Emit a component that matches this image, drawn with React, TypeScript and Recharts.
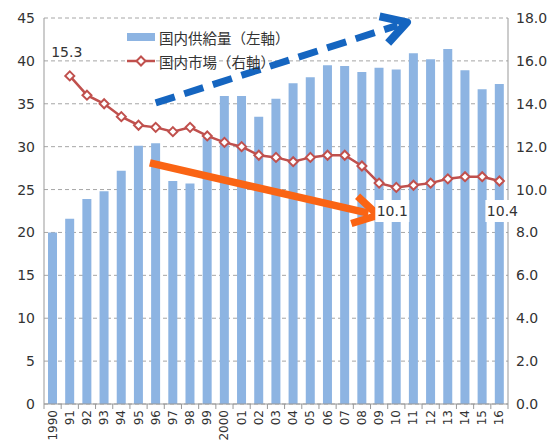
import {
  Bar,
  CartesianGrid,
  ComposedChart,
  LabelList,
  Legend,
  Line,
  ReferenceLine,
  XAxis,
  YAxis,
} from "recharts";

const years = [
  "1990", "91", "92", "93", "94", "95", "96", "97", "98", "99",
  "2000", "01", "02", "03", "04", "05", "06", "07", "08", "09",
  "10", "11", "12", "13", "14", "15", "16",
];

// 国内供給量（左軸）
const supply = [
  20.0, 21.6, 23.9, 24.8, 27.2, 30.1, 30.4, 26.0, 25.7, 31.0,
  35.9, 35.9, 33.5, 35.6, 37.4, 38.1, 39.5, 39.4, 38.7, 39.2,
  39.0, 40.9, 40.2, 41.4, 38.9, 36.7, 37.3,
];

// 国内市場（右軸）
const market = [
  null, 15.3, 14.4, 14.0, 13.4, 13.0, 12.9, 12.7, 12.9, 12.5,
  12.2, 12.0, 11.6, 11.5, 11.3, 11.5, 11.6, 11.6, 11.1, 10.3,
  10.1, 10.2, 10.3, 10.5, 10.6, 10.6, 10.4,
];

const leftTicks = [0, 5, 10, 15, 20, 25, 30, 35, 40, 45];
const rightTicks = [0, 2, 4, 6, 8, 10, 12, 14, 16, 18];
const labelledYears = ["91", "10", "16"];

const data = years.map((year, i) => ({
  year,
  supply: supply[i],
  market: market[i],
}));

const BLUE = "#8db4e2";
const RED = "#c0504d";
const NUM_FONT = "'DejaVu Sans', Verdana, sans-serif";
const JP_FONT = "'Noto Sans CJK JP', sans-serif";

function YearTick(props: any) {
  const { x, y, payload, index, visibleTicksCount } = props;
  const half = payload?.offset ?? 8.6;
  const last = index === (visibleTicksCount ?? years.length) - 1;
  return (
    <g>
      <line x1={x - half} y1={y - 6} x2={x - half} y2={y - 1} stroke="#999" />
      {last && (
        <line x1={x + half} y1={y - 6} x2={x + half} y2={y - 1} stroke="#999" />
      )}
      <text
        transform={`translate(${x},${y}) rotate(-90)`}
        textAnchor="end"
        dominantBaseline="central"
        fontSize={12}
        fontFamily={NUM_FONT}
        fill="#333"
      >
        {payload.value}
      </text>
    </g>
  );
}

function Diamond(props: any) {
  const { cx, cy, index } = props;
  if (cx == null || cy == null) return <g key={`d-${index}`} />;
  const r = 4.5;
  return (
    <polygon
      key={`d-${index}`}
      points={`${cx},${cy - r} ${cx + r},${cy} ${cx},${cy + r} ${cx - r},${cy}`}
      fill="#fff"
      stroke={RED}
      strokeWidth={2}
    />
  );
}

function MarketLabel(props: any) {
  const { x, y, value, index } = props;
  const year = years[index as number];
  if (!labelledYears.includes(year) || x == null || y == null) return null;
  const text = Number(value).toFixed(1);
  if (index === 1) {
    return (
      <text
        x={x - 3}
        y={y - 24}
        textAnchor="middle"
        dominantBaseline="central"
        fontSize={14}
        fontFamily={NUM_FONT}
        fill="#333"
      >
        {text}
      </text>
    );
  }
  const cy = 211;
  const cx = index === years.length - 1 ? x + 3 : x - 4;
  return (
    <g>
      <rect x={cx - 17} y={cy - 11} width={34} height={22} fill="#fff" />
      <text
        x={cx}
        y={cy}
        textAnchor="middle"
        dominantBaseline="central"
        fontSize={14}
        fontFamily={NUM_FONT}
        fill="#333"
      >
        {text}
      </text>
    </g>
  );
}

// shaft ends sit between category centres: shift them by a fraction of a band
function makeArrow(steps: number, shift1: number, shift2: number, headWidth: number) {
  return function Arrow(props: any) {
    const { stroke, strokeWidth, strokeDasharray } = props;
    const band = (props.x2 - props.x1) / steps;
    const x1 = props.x1 + shift1 * band;
    const x2 = props.x2 + shift2 * band;
    const { y1, y2 } = props;
    const ang = Math.atan2(y2 - y1, x2 - x1);
    const len = 28;
    const spread = (30 * Math.PI) / 180;
    const a1x = x2 - len * Math.cos(ang - spread);
    const a1y = y2 - len * Math.sin(ang - spread);
    const a2x = x2 - len * Math.cos(ang + spread);
    const a2y = y2 - len * Math.sin(ang + spread);
    const ex = x2 - 10 * Math.cos(ang);
    const ey = y2 - 10 * Math.sin(ang);
    return (
      <g>
        <line
          x1={x1}
          y1={y1}
          x2={ex}
          y2={ey}
          stroke={stroke}
          strokeWidth={strokeWidth}
          strokeDasharray={strokeDasharray}
        />
        <polyline
          points={`${a1x},${a1y} ${x2},${y2} ${a2x},${a2y}`}
          fill="none"
          stroke={stroke}
          strokeWidth={headWidth}
          strokeLinejoin="round"
        />
      </g>
    );
  };
}

const BlueArrow = makeArrow(14, 0, 0.62, 8);
const OrangeArrow = makeArrow(13, -0.34, -0.06, 7.5);

function LegendBox() {
  const row = {
    display: "flex",
    alignItems: "center",
    height: 24,
    whiteSpace: "nowrap" as const,
  };
  return (
    <div style={{ fontFamily: JP_FONT, fontSize: 14.5, color: "#333" }}>
      <div style={row}>
        <svg width={33} height={12}>
          <rect x={1} y={2} width={28} height={8} fill={BLUE} />
        </svg>
        <span>国内供給量（左軸）</span>
      </div>
      <div style={row}>
        <svg width={33} height={12}>
          <line x1={1} y1={6} x2={29} y2={6} stroke={RED} strokeWidth={2.5} />
          <polygon points="15,1.5 19.5,6 15,10.5 10.5,6" fill="#fff" stroke={RED} strokeWidth={2} />
        </svg>
        <span>国内市場（右軸）</span>
      </div>
    </div>
  );
}

export default function App() {
  return (
    <div style={{ width: 553, height: 441 }}>
      <style>{"body{margin:0}"}</style>
      <ComposedChart
        width={553}
        height={441}
        data={data}
        margin={{ top: 18, right: 0, bottom: 0, left: 0 }}
      >
        <CartesianGrid
          yAxisId="left"
          vertical={false}
          stroke="#a6a6a6"
          strokeDasharray="4 3"
        />
        <XAxis
          dataKey="year"
          interval={0}
          height={37}
          stroke="#999"
          tickLine={false}
          tickSize={0}
          tickMargin={6}
          tick={<YearTick />}
        />
        <YAxis
          yAxisId="left"
          domain={[0, 45]}
          ticks={leftTicks}
          width={44}
          tickLine={false}
          tickSize={0}
          tickMargin={9}
          stroke="#999"
          tick={{ fill: "#333", fontSize: 14, fontFamily: NUM_FONT }}
        />
        <YAxis
          yAxisId="right"
          orientation="right"
          domain={[0, 18]}
          ticks={rightTicks}
          width={45}
          tickLine={false}
          tickSize={0}
          tickMargin={8}
          stroke="#999"
          tickFormatter={(v: number) => v.toFixed(1)}
          tick={{ fill: "#333", fontSize: 14, fontFamily: NUM_FONT }}
        />
        <Legend
          layout="vertical"
          align="center"
          verticalAlign="middle"
          wrapperStyle={{ top: 25, left: 126, width: 220 }}
          content={() => <LegendBox />}
        />
        <Bar
          yAxisId="left"
          dataKey="supply"
          fill={BLUE}
          barSize={9}
          isAnimationActive={false}
        />
        <Line
          yAxisId="right"
          dataKey="market"
          stroke={RED}
          strokeWidth={2.5}
          dot={Diamond}
          activeDot={false}
          isAnimationActive={false}
        >
          <LabelList dataKey="market" content={MarketLabel} />
        </Line>
        <ReferenceLine
          yAxisId="left"
          segment={[
            { x: "96", y: 35.1 },
            { x: "10", y: 44.5 },
          ]}
          stroke="#1565c0"
          strokeWidth={7}
          strokeDasharray="20 10"
          ifOverflow="visible"
          shape={BlueArrow}
        />
        <ReferenceLine
          yAxisId="left"
          segment={[
            { x: "96", y: 28.1 },
            { x: "09", y: 22.0 },
          ]}
          stroke="#fa6414"
          strokeWidth={7.5}
          ifOverflow="visible"
          shape={OrangeArrow}
        />
      </ComposedChart>
    </div>
  );
}
